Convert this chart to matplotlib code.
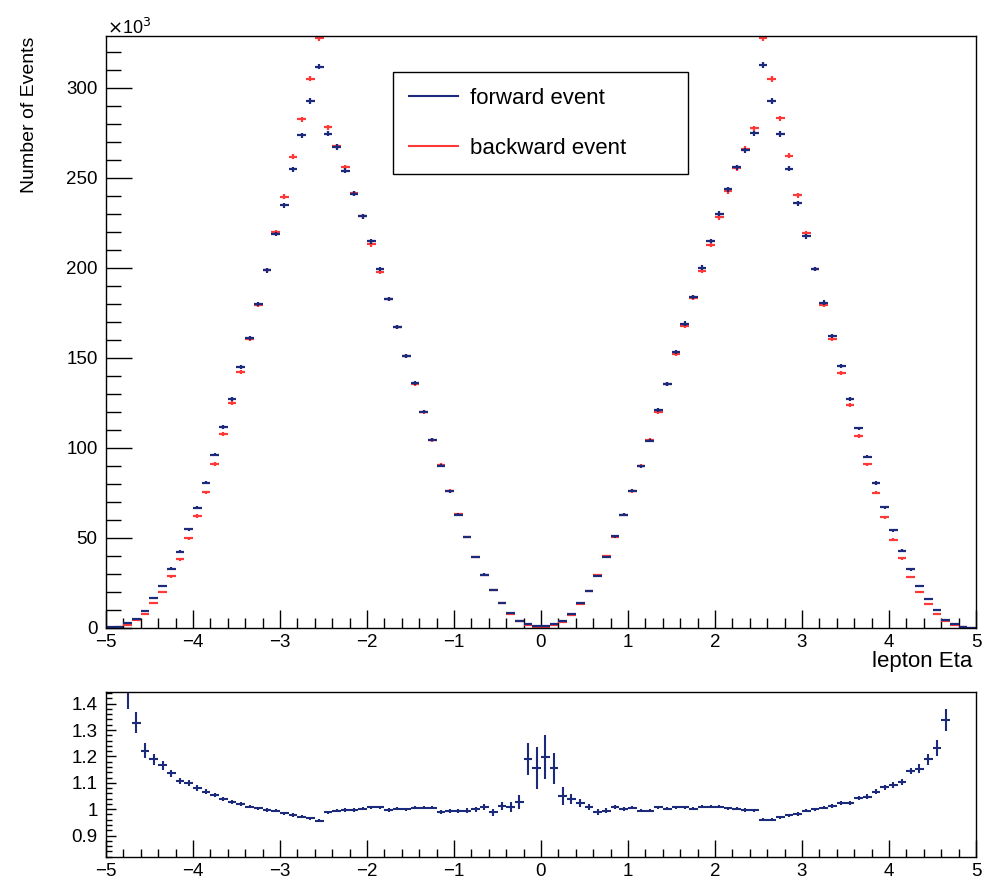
import numpy as np
import matplotlib
matplotlib.use("Agg")
import matplotlib.pyplot as plt
from matplotlib.lines import Line2D
from matplotlib.ticker import MultipleLocator

plt.rcParams['font.family'] = ['Liberation Sans', 'DejaVu Sans']

# lepton eta binning: 100 bins from -5 to 5
edges = np.linspace(-5, 5, 101)

# backward events (x10^3), read per bin
bwd = [0.1, 0.3, 1.9, 4.3, 7.8, 13.7, 19.8, 28.7, 38.2, 49.7,
       62.2, 75.4, 91.0, 107.6, 124.7, 142.2, 160.5, 179.4, 198.7, 219.7,
       239.5, 261.7, 282.4, 305.0, 327.6, 278.0, 267.4, 255.8, 241.5, 228.7,
       213.0, 197.6, 182.8, 167.0, 151.0, 135.6, 120.0, 104.4, 90.6, 76.3,
       63.2, 50.6, 39.3, 29.5, 21.1, 13.9, 8.0, 4.0, 1.9, 0.8,
       0.8, 1.8, 3.6, 7.3, 13.4, 20.6, 29.4, 39.8, 50.5, 62.8,
       75.8, 90.1, 104.6, 120.0, 135.3, 152.2, 167.7, 183.5, 198.2, 212.9,
       228.1, 242.6, 255.4, 266.0, 277.5, 327.5, 304.8, 282.9, 262.2, 240.2,
       219.1, 199.3, 179.5, 160.3, 141.7, 123.6, 106.5, 90.8, 75.2, 61.4,
       49.0, 38.7, 28.3, 20.2, 13.4, 7.5, 3.8, 1.4, 0.3, 0.05]

# forward events (x10^3)
fwd = [0.3, 0.7, 2.6, 5.0, 9.6, 16.5, 23.5, 33.0, 42.4, 54.7,
       66.7, 80.6, 96.3, 111.7, 127.4, 144.7, 161.0, 180.0, 198.5, 218.7,
       234.7, 254.7, 273.5, 292.6, 311.7, 274.4, 267.0, 253.9, 241.0, 228.7,
       214.7, 199.3, 182.6, 167.0, 151.0, 135.8, 120.2, 104.6, 90.2, 76.0,
       62.9, 50.4, 39.3, 29.7, 20.9, 14.0, 8.1, 4.1, 2.3, 0.9,
       0.95, 2.1, 3.8, 7.6, 13.7, 20.8, 29.1, 39.6, 50.9, 62.9,
       76.2, 89.7, 104.1, 121.0, 135.6, 153.4, 169.0, 183.9, 200.0, 214.8,
       230.1, 243.6, 255.9, 265.2, 274.7, 312.5, 292.5, 274.3, 255.1, 235.7,
       217.4, 199.3, 180.7, 162.0, 145.4, 127.2, 110.8, 95.2, 80.5, 67.1,
       54.3, 43.0, 32.6, 23.2, 15.9, 9.8, 4.6, 2.1, 0.5, 0.1]

# statistical error on counts (x10^3)
cnt_err = [0.05, 0.1, 0.2, 0.3, 0.4, 0.5, 0.6, 0.7, 0.8, 0.8,
           0.9, 0.9, 1.0, 1.0, 1.1, 1.1, 1.2, 1.2, 1.3, 1.3,
           1.4, 1.4, 1.5, 1.5, 1.6, 1.5, 1.5, 1.4, 1.4, 1.4,
           1.3, 1.3, 1.2, 1.2, 1.1, 1.1, 1.0, 1.0, 0.9, 0.9,
           0.8, 0.7, 0.6, 0.6, 0.5, 0.4, 0.3, 0.2, 0.15, 0.1,
           0.1, 0.15, 0.2, 0.3, 0.4, 0.5, 0.6, 0.6, 0.7, 0.8,
           0.9, 0.9, 1.0, 1.0, 1.1, 1.1, 1.2, 1.2, 1.3, 1.3,
           1.4, 1.4, 1.4, 1.5, 1.5, 1.6, 1.5, 1.5, 1.4, 1.4,
           1.3, 1.3, 1.2, 1.2, 1.1, 1.1, 1.0, 1.0, 0.9, 0.9,
           0.8, 0.8, 0.7, 0.6, 0.5, 0.4, 0.3, 0.2, 0.1, 0.05]

# forward / backward ratio
nan = np.nan
ratio = [nan, nan, 1.47, 1.328, 1.221, 1.19, 1.167, 1.136, 1.108, 1.098,
         1.08, 1.067, 1.055, 1.038, 1.027, 1.02, 1.01, 1.004, 0.997, 0.994,
         0.985, 0.978, 0.972, 0.966, 0.956, 0.989, 0.994, 0.997, 0.997, 1.002,
         1.008, 1.008, 0.997, 1.002, 1.0, 1.006, 1.006, 1.006, 0.99, 0.994,
         0.994, 0.995, 0.999, 1.008, 0.988, 1.011, 1.008, 1.027, 1.19, 1.155,
         1.197, 1.155, 1.05, 1.038, 1.025, 1.008, 0.989, 0.995, 1.008, 1.001,
         1.006, 0.995, 0.995, 1.008, 1.002, 1.008, 1.008, 1.002, 1.009, 1.009,
         1.009, 1.004, 1.002, 0.997, 0.996, 0.96, 0.96, 0.97, 0.977, 0.982,
         0.994, 1.0, 1.006, 1.013, 1.024, 1.024, 1.043, 1.048, 1.067, 1.083,
         1.092, 1.102, 1.145, 1.154, 1.189, 1.231, 1.338, nan, nan, nan]

ratio_err = [0, 0, 0.09, 0.041, 0.028, 0.021, 0.017, 0.014, 0.012, 0.011,
             0.010, 0.009, 0.008, 0.008, 0.007, 0.007, 0.007, 0.006, 0.006, 0.006,
             0.006, 0.006, 0.006, 0.006, 0.006, 0.006, 0.006, 0.006, 0.006, 0.006,
             0.006, 0.006, 0.006, 0.006, 0.006, 0.006, 0.006, 0.007, 0.007, 0.007,
             0.007, 0.008, 0.009, 0.010, 0.012, 0.015, 0.018, 0.028, 0.061, 0.08,
             0.084, 0.059, 0.035, 0.02, 0.015, 0.012, 0.010, 0.009, 0.008, 0.007,
             0.007, 0.007, 0.007, 0.006, 0.006, 0.006, 0.006, 0.006, 0.006, 0.006,
             0.006, 0.006, 0.006, 0.006, 0.006, 0.006, 0.006, 0.006, 0.006, 0.006,
             0.006, 0.006, 0.006, 0.007, 0.007, 0.007, 0.008, 0.008, 0.009, 0.010,
             0.011, 0.012, 0.013, 0.016, 0.02, 0.03, 0.041, 0, 0, 0]

centers = 0.5 * (edges[:-1] + edges[1:])
halfw = 0.5 * np.diff(edges)

blue = '#1c2a7c'
red = '#ff3838'

fig = plt.figure(figsize=(9.83, 8.82), dpi=100)
W, H = 983.0, 882.0
ax = fig.add_axes([106 / W, 1 - 628 / H, 870 / W, 592 / H])
axr = fig.add_axes([106 / W, 1 - 857 / H, 870 / W, 165 / H])

ax.errorbar(centers, bwd, xerr=halfw, yerr=cnt_err, fmt='none',
            ecolor=red, elinewidth=1.6, capsize=0)
ax.errorbar(centers, fwd, xerr=halfw, yerr=cnt_err, fmt='none',
            ecolor=blue, elinewidth=1.6, capsize=0)

ax.set_xlim(-5, 5)
ax.set_ylim(0, 328.7)
ax.xaxis.set_major_locator(MultipleLocator(1))
ax.xaxis.set_minor_locator(MultipleLocator(0.2))
ax.yaxis.set_major_locator(MultipleLocator(50))
ax.yaxis.set_minor_locator(MultipleLocator(10))
ax.tick_params(axis='x', which='major', direction='in', length=13, width=1.0,
               labelsize=13.5, pad=4, top=False)
ax.tick_params(axis='x', which='minor', direction='in', length=7, width=1.0, top=False)
ax.tick_params(axis='y', which='major', direction='in', length=19, width=1.0,
               labelsize=13.5, pad=6, right=False)
ax.tick_params(axis='y', which='minor', direction='in', length=11, width=1.0, right=False)
for s in ax.spines.values():
    s.set_linewidth(1.0)

handles = [Line2D([], [], color=blue, lw=1.5), Line2D([], [], color=red, lw=1.5)]
leg = ax.legend(handles, ['forward event', 'backward event'], loc='upper left',
                bbox_to_anchor=(0.33, 0.939, 0.339, 0.0), mode='expand',
                fontsize=16, frameon=True, fancybox=False, edgecolor='black',
                framealpha=1, handlelength=2.2, handletextpad=0.55,
                borderpad=0.7, labelspacing=1.3, borderaxespad=0)
leg.get_frame().set_linewidth(1.0)

fig.text(107 / W, 1 - 34 / H, r'$\times$10$^{3}$', fontsize=13, ha='left', va='baseline')
fig.text(30 / W, 1 - 37 / H, 'Number of Events', rotation=90, fontsize=14,
         ha='center', va='top')
fig.text(972 / W, 1 - 662 / H, 'lepton Eta', fontsize=16, ha='right', va='center')

# ratio panel
axr.errorbar(centers, ratio, xerr=halfw, yerr=ratio_err, fmt='none',
             ecolor=blue, elinewidth=1.5, capsize=0)
axr.set_xlim(-5, 5)
axr.set_ylim(0.819, 1.444)
axr.xaxis.set_major_locator(MultipleLocator(1))
axr.xaxis.set_minor_locator(MultipleLocator(0.2))
axr.set_yticks([0.9, 1.0, 1.1, 1.2, 1.3, 1.4])
axr.set_yticklabels(['0.9', '1', '1.1', '1.2', '1.3', '1.4'])
axr.yaxis.set_minor_locator(MultipleLocator(0.02))
axr.tick_params(axis='x', which='major', direction='in', length=12, width=1.0,
                labelsize=13.5, pad=4, top=False)
axr.tick_params(axis='x', which='minor', direction='in', length=6, width=1.0, top=False)
axr.tick_params(axis='y', which='major', direction='in', length=7, width=1.0,
                labelsize=13.5, pad=6, right=False)
axr.tick_params(axis='y', which='minor', direction='in', length=4, width=1.0, right=False)
for s in axr.spines.values():
    s.set_linewidth(1.0)

fig.savefig('out.png', dpi=100)
